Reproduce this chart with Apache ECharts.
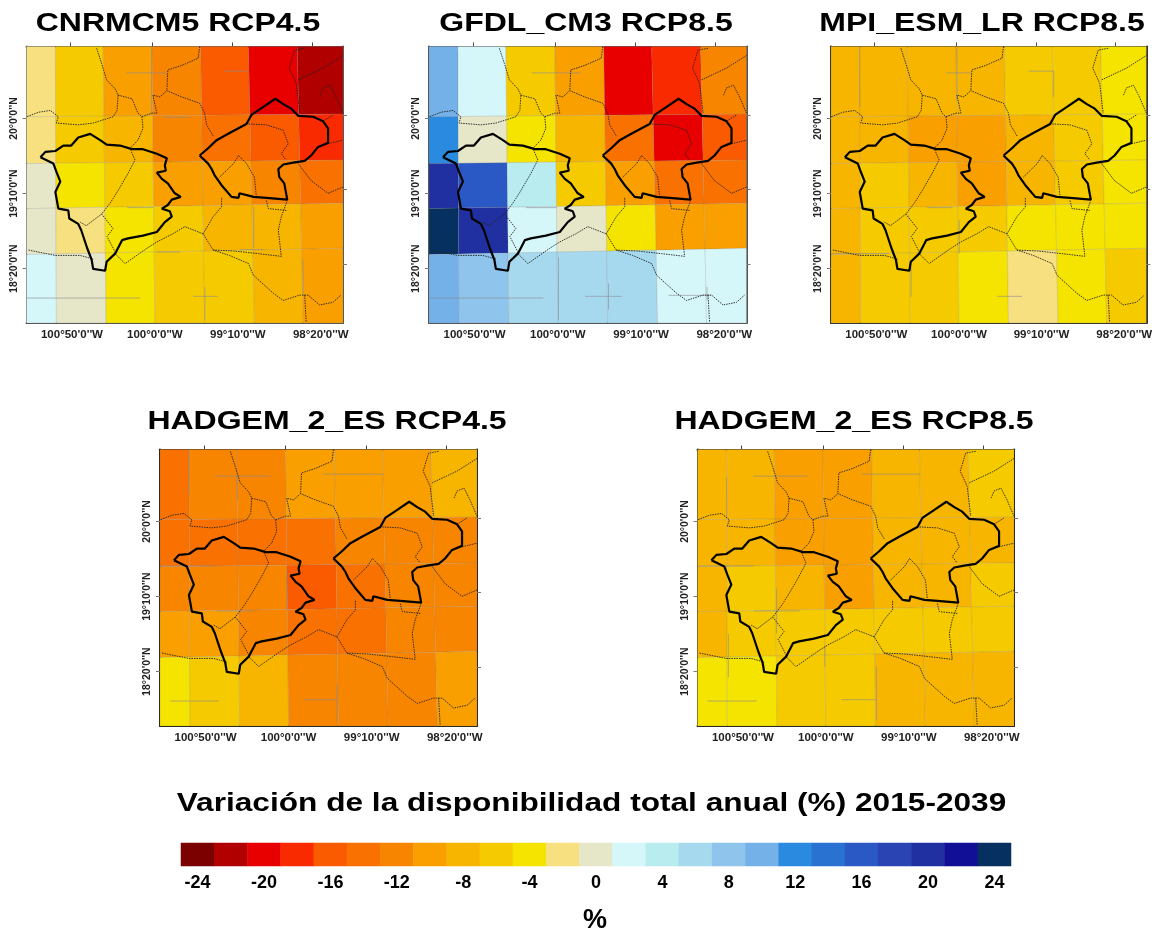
<!DOCTYPE html>
<html><head><meta charset="utf-8">
<style>html,body{margin:0;padding:0;background:#fff}#c{width:1155px;height:930px;filter:blur(0.5px)}</style>
<script src="https://cdn.jsdelivr.net/npm/echarts@6/dist/echarts.min.js"></script>
</head><body><div id="c"></div>
<script>
// colour scale
const binValues = [-24,-22,-20,-18,-16,-14,-12,-10,-8,-6,-4,-2,0,2,4,6,8,10,12,14,16,18,20,22,24];
const binColors = ['#7b0000','#b00000','#e80000','#fa2a00','#fa5a00','#f97100','#f88500','#f99f00','#f7b500','#f5cb00','#f5e300','#f7e07f','#e6e6c8','#d6f7fa','#b8ecee','#a6d9ee','#8fc4ec','#74b1e9','#2a8ae0','#2a72d2','#2a58c4','#2a44b4','#2030a0','#100f96','#05305f'];

// panels
const panelTitles = ['CNRMCM5 RCP4.5','GFDL_CM3 RCP8.5','MPI_ESM_LR RCP8.5','HADGEM_2_ES RCP4.5','HADGEM_2_ES RCP8.5'];
const cnrm = [[-2,-6,-10,-12,-16,-20,-22],[-2,-6,-8,-12,-14,-16,-18],[0,-4,-6,-10,-10,-12,-14],[0,-2,-4,-6,-8,-8,-10],[2,0,-4,-6,-6,-8,-10]];
const gfdl = [[10,2,-6,-10,-20,-18,-12],[12,0,-4,-8,-14,-20,-16],[20,16,4,-6,-10,-14,-14],[24,20,2,0,-4,-10,-10],[10,8,6,6,6,2,2]];
const mpi  = [[-8,-8,-8,-8,-6,-6,-4],[-8,-8,-10,-10,-8,-6,-4],[-8,-6,-8,-10,-8,-6,-4],[-8,-6,-6,-6,-4,-4,-4],[-8,-6,-6,-4,-2,-4,-6]];
const had45= [[-14,-12,-12,-10,-10,-10,-8],[-14,-14,-14,-14,-12,-12,-12],[-12,-12,-12,-16,-14,-12,-12],[-10,-10,-12,-14,-14,-12,-12],[-4,-6,-8,-12,-12,-12,-10]];
const had85= [[-8,-8,-10,-10,-8,-8,-6],[-8,-8,-10,-10,-8,-8,-8],[-8,-6,-8,-10,-8,-8,-6],[-8,-6,-6,-6,-6,-6,-6],[-4,-4,-6,-6,-8,-8,-8]];
const panelValues = [cnrm,gfdl,mpi,had45,had85];

// cell grid (degrees), slightly tilted
const lonEdgesTop    = [-101.29,-101.00,-100.52,-100.03,-99.54,-99.06,-98.57,-98.11];
const lonEdgesBottom = [-101.29,-100.99,-100.49,-100.00,-99.50,-99.00,-98.51,-98.11];
const latEdgesLeft   = [20.80,20.02,19.50,19.00,18.49,17.73];
const latEdgesRight  = [20.80,20.05,19.54,19.06,18.56,17.73];

// axes ticks
const lonTicks = [-100.8333,-100,-99.1667,-98.3333];
const lonLabels = ["100°50'0''W","100°0'0''W","99°10'0''W","98°20'0''W"];
const latTicks = [20,19.1667,18.3333];
const latLabels = ["20°0'0''N","19°10'0''N","18°20'0''N"];
const topTicks = [-100.85,-100.03,-99.22,-98.42];
const rightTicks = [20.04,19.22,18.38];

// basin outlines (lon, lat)
const basinWest = [[-101.15,19.57],[-101.10,19.63],[-101.00,19.64],[-100.92,19.70],[-100.84,19.70],[-100.77,19.79],[-100.65,19.83],[-100.55,19.76],[-100.485,19.71],[-100.35,19.70],[-100.23,19.66],[-100.12,19.66],[-99.98,19.61],[-99.88,19.56],[-99.90,19.48],[-99.89,19.42],[-99.98,19.40],[-99.93,19.33],[-99.87,19.28],[-99.80,19.17],[-99.74,19.13],[-99.83,19.10],[-99.87,19.04],[-99.93,19.00],[-99.85,18.97],[-99.83,18.91],[-99.90,18.85],[-99.98,18.74],[-100.12,18.70],[-100.27,18.67],[-100.33,18.65],[-100.40,18.50],[-100.485,18.41],[-100.50,18.31],[-100.62,18.33],[-100.635,18.43],[-100.68,18.56],[-100.74,18.76],[-100.77,18.83],[-100.86,18.89],[-100.87,18.98],[-100.97,19.00],[-101.00,19.185],[-100.95,19.30],[-100.99,19.41],[-101.02,19.50],[-101.15,19.57]];
const basinEast = [[-99.55,19.59],[-99.465,19.67],[-99.38,19.76],[-99.25,19.84],[-99.08,19.94],[-99.03,20.04],[-98.91,20.13],[-98.79,20.22],[-98.71,20.16],[-98.63,20.11],[-98.56,20.03],[-98.41,20.02],[-98.31,19.97],[-98.26,19.89],[-98.26,19.73],[-98.36,19.685],[-98.43,19.59],[-98.495,19.53],[-98.61,19.51],[-98.71,19.49],[-98.76,19.44],[-98.75,19.35],[-98.70,19.28],[-98.67,19.10],[-98.88,19.12],[-99.01,19.13],[-99.15,19.17],[-99.16,19.12],[-99.23,19.13],[-99.33,19.26],[-99.40,19.37],[-99.43,19.44],[-99.465,19.50],[-99.55,19.59]];

// thin boundaries (lon, lat)
const boundaries = [
 [[-100.585,20.78],[-100.535,20.61],[-100.485,20.43],[-100.40,20.33],[-100.37,20.26],[-100.38,20.09],[-100.42,20.02],[-100.62,19.95],[-100.77,19.93],[-100.99,19.95],[-100.97,20.02],[-101.05,20.09],[-101.17,20.07],[-101.287,20.02]],
 [[-100.37,20.26],[-100.23,20.22],[-100.17,20.06],[-100.13,20.02],[-100.12,19.89],[-100.17,19.76],[-100.25,19.67],[-100.20,19.54],[-100.27,19.39],[-100.37,19.20],[-100.45,19.06],[-100.535,18.94],[-100.69,18.81],[-100.75,18.85]],
 [[-100.535,18.94],[-100.42,18.78],[-100.48,18.69],[-100.40,18.52]],
 [[-100.13,20.02],[-100.03,20.06],[-99.98,20.06],[-100.02,20.26],[-99.95,20.24],[-99.88,20.31],[-99.73,20.24],[-99.55,20.17],[-99.50,20.06],[-99.48,19.93],[-99.41,19.80]],
 [[-99.55,20.80],[-99.565,20.67],[-99.73,20.59],[-99.87,20.54],[-99.88,20.31]],
 [[-101.27,18.54],[-101.00,18.48],[-100.75,18.48],[-100.62,18.44]],
 [[-100.40,18.50],[-100.30,18.39],[-100.08,18.56],[-99.98,18.63],[-99.82,18.72],[-99.70,18.80],[-99.515,18.72],[-99.415,18.54],[-99.25,18.48],[-99.06,18.39],[-99.01,18.26],[-98.81,18.06],[-98.71,17.98],[-98.545,18.04],[-98.46,18.04],[-98.345,17.93],[-98.21,17.96],[-98.13,18.04]],
 [[-98.495,18.04],[-98.48,17.74]],
 [[-99.515,18.72],[-99.415,18.91],[-99.33,19.02],[-99.33,19.13]],
 [[-99.415,18.54],[-99.21,18.53],[-98.96,18.50],[-98.73,18.47],[-98.76,18.76],[-98.73,18.91],[-98.67,19.09]],
 [[-98.88,19.09],[-98.86,19.00],[-98.68,18.98]],
 [[-99.06,19.94],[-98.88,19.93],[-98.71,19.87],[-98.66,19.72],[-98.73,19.61],[-98.68,19.54]],
 [[-99.35,19.35],[-99.21,19.50],[-99.16,19.59],[-99.08,19.50],[-99.00,19.35],[-98.98,19.13]],
 [[-98.56,19.50],[-98.43,19.31],[-98.26,19.17],[-98.11,19.24]],
 [[-98.26,19.72],[-98.11,19.76]],
 [[-98.34,20.26],[-98.31,20.34],[-98.24,20.37],[-98.18,20.24],[-98.11,20.06]],
 [[-98.31,19.97],[-98.21,20.04]],
 [[-98.495,20.78],[-98.595,20.76],[-98.65,20.56],[-98.58,20.39],[-98.545,20.06]],
 [[-98.56,20.43],[-98.31,20.56],[-98.11,20.70]]
];

// gray graticule fragments seen in each panel (lon, lat pairs)
const gratCnrm = [[[-100.284,20.507],[-99.883,20.507]],[[-99.916,20.015],[-99.649,20.015]],[[-100.278,19.011],[-100.017,19.011]],[[-99.983,18.519],[-99.749,18.519]],[[-101.288,18.007],[-100.15,18.007]],[[-99.615,18.026],[-99.365,18.026]],[[-99.147,18.544],[-98.913,18.544]],[[-99.314,20.526],[-99.064,20.526]],[[-100.033,20.8],[-100.033,20.04]],[[-99.498,18.13],[-99.498,17.76]],[[-98.512,18.426],[-98.512,18.056]],[[-99.007,19.02],[-99.007,18.57]]];
const gratGfdl = [[[-100.261,20.507],[-99.776,20.507]],[[-100.318,19.011],[-100.01,19.011]],[[-99.726,18.026],[-99.358,18.026]],[[-98.89,18.037],[-98.472,18.037]],[[-101.281,18.007],[-100.144,18.007]],[[-99.492,18.17],[-99.492,17.88]],[[-98.505,18.13],[-98.505,17.98]],[[-99.993,18.46],[-99.993,17.76]]];
const gratMpi = [[[-99.294,20.526],[-99.044,20.526]],[[-100.13,20.507],[-99.88,20.507]],[[-99.612,18.026],[-99.361,18.026]],[[-100.32,19.011],[-100.064,19.011]],[[-101.284,18.5],[-100.699,18.5]],[[-99.044,20.526],[-99.044,20.24]],[[-100.482,18.352],[-100.482,18.02]],[[-99.997,18.87],[-99.997,18.5]],[[-100.02,20.8],[-100.02,20.2]],[[-101.0,20.8],[-101.0,20.13]]];
const gratHad45 = [[[-100.736,20.504],[-100.184,20.504]],[[-99.649,20.526],[-99.047,20.526]],[[-101.187,18.007],[-100.702,18.007]],[[-99.85,18.022],[-99.515,18.022]],[[-101.288,19.507],[-100.736,19.507]],[[-100.719,19.007],[-100.351,19.007]],[[-101.003,20.8],[-101.003,20.31]],[[-100.512,20.515],[-100.512,20.237]],[[-99.515,18.19],[-99.515,17.78]],[[-100.017,19.46],[-100.017,19.02]]];
const gratHad85 = [[[-100.729,20.504],[-100.187,20.504]],[[-99.642,20.526],[-99.057,20.526]],[[-101.19,18.007],[-100.696,18.007]],[[-99.843,18.022],[-99.492,18.022]],[[-100.722,19.007],[-100.261,19.007]],[[-101.281,19.507],[-100.729,19.507]],[[-100.495,19.256],[-100.495,18.756]],[[-100.997,20.496],[-100.997,20.052]],[[-100.01,18.625],[-100.01,18.385]],[[-99.492,18.385],[-99.492,17.793]],[[-100.98,18.756],[-100.98,18.274]]];
const panelGrat = [gratCnrm,gratGfdl,gratMpi,gratHad45,gratHad85];

const lonMin=-101.29, lonMax=-98.11, latMin=17.73, latMax=20.80;
const panelRects = [[26.5,46.5,316.5,276.5],[429,46.5,317.5,276.5],[831,46.5,316.5,276.5],[160,449.5,317,276.5],[697.5,449.5,316.5,276.5]];
const titlePos = [[178,24],[586,24],[982,24],[327,422],[854,422]];
const borderColors = ['#555','#555','#333','#222','#222'];

function colorOf(v){ return binColors[binValues.indexOf(v)]; }
function corner(i,j){
  const t=(latEdgesLeft[0]-latEdgesLeft[j])/(latEdgesLeft[0]-latEdgesLeft[5]);
  const s=(lonEdgesTop[i]-lonMin)/(lonMax-lonMin);
  return [lonEdgesTop[i]+(lonEdgesBottom[i]-lonEdgesTop[i])*t, latEdgesLeft[j]+(latEdgesRight[j]-latEdgesLeft[j])*s];
}
const labelFont={fontFamily:'Liberation Sans',fontWeight:'bold',color:'#222'};
const grids=[],xAxes=[],yAxes=[],series=[],graphics=[];
panelTitles.forEach((title,p)=>{
  const r=panelRects[p], bc=borderColors[p];
  grids.push({left:r[0],top:r[1],width:r[2],height:r[3]});
  const line={show:true,onZero:false,lineStyle:{color:bc,width:2}};
  xAxes.push({type:'value',gridIndex:p,min:lonMin,max:lonMax,position:'bottom',axisLine:line,splitLine:{show:false},
    axisTick:{show:false},
    axisLabel:{customValues:lonTicks,margin:6,fontSize:11.5,...labelFont,formatter:v=>lonLabels[lonTicks.indexOf(v)],hideOverlap:false,showMinLabel:true,showMaxLabel:true}});
  xAxes.push({type:'value',gridIndex:p,min:lonMin,max:lonMax,position:'top',axisLine:line,splitLine:{show:false},
    axisTick:{show:true,length:4,inside:false,customValues:topTicks,lineStyle:{color:'#444',width:1}},axisLabel:{show:false}});
  yAxes.push({type:'value',gridIndex:p,min:latMin,max:latMax,position:'left',axisLine:line,splitLine:{show:false},
    axisTick:{show:true,length:4,customValues:latTicks,lineStyle:{color:'#777',width:1}},
    axisLabel:{customValues:latTicks,rotate:90,margin:7,fontSize:10.5,...labelFont,formatter:v=>latLabels[latTicks.indexOf(v)]}});
  yAxes.push({type:'value',gridIndex:p,min:latMin,max:latMax,position:'right',axisLine:line,splitLine:{show:false},
    axisTick:{show:true,length:4,customValues:rightTicks,lineStyle:{color:'#777',width:1}},axisLabel:{show:false}});
  const ax={xAxisIndex:2*p,yAxisIndex:2*p};
  const cells=[];
  panelValues[p].forEach((row,j)=>row.forEach((v,i)=>cells.push([i,j,v])));
  series.push({type:'custom',...ax,silent:true,animation:false,data:cells,z:1,
    renderItem:(params,api)=>{
      const i=api.value(0),j=api.value(1);
      const pts=[corner(i,j),corner(i+1,j),corner(i+1,j+1),corner(i,j+1)].map(c=>api.coord(c));
      const fill=colorOf(api.value(2));
      return {type:'polygon',shape:{points:pts},style:{fill,stroke:'rgba(120,120,120,0.18)',lineWidth:1}};
    }});
  panelGrat[p].forEach(g=>series.push({type:'line',...ax,data:g,symbol:'none',silent:true,animation:false,clip:true,z:2,
    lineStyle:{color:'#8a8a92',width:1,opacity:0.6}}));
  boundaries.forEach(b=>series.push({type:'line',...ax,data:b,symbol:'none',silent:true,animation:false,clip:true,z:3,
    lineStyle:{color:'#222',width:0.9,type:[1.5,1]}}));
  [basinWest,basinEast].forEach(b=>series.push({type:'line',...ax,data:b,symbol:'none',silent:true,animation:false,clip:true,z:4,
    lineStyle:{color:'#000',width:2.2}}));
  graphics.push({type:'text',x:titlePos[p][0],y:titlePos[p][1],scaleX:1.28,silent:true,
    style:{text:title,font:'bold 25px "Liberation Sans"',fill:'#000',textAlign:'center',textVerticalAlign:'middle'}});
});
// colour bar
grids.push({left:181,top:843,width:830,height:23});
xAxes.push({type:'category',gridIndex:5,data:binValues.map(String),axisLine:{show:false},axisTick:{show:false},
  axisLabel:{interval:1,margin:8,fontSize:18,fontFamily:'Liberation Sans',fontWeight:'bold',color:'#000'}});
yAxes.push({type:'category',gridIndex:5,data:['%'],show:false});
const barIndex=series.length;
series.push({type:'heatmap',xAxisIndex:10,yAxisIndex:10,silent:true,animation:false,
  data:binValues.map((v,i)=>[i,0,v])});
graphics.push({type:'text',x:591.5,y:804,scaleX:1.265,silent:true,
  style:{text:'Variación de la disponibilidad total anual (%) 2015-2039',font:'bold 25px "Liberation Sans"',fill:'#000',textAlign:'center',textVerticalAlign:'middle'}});
graphics.push({type:'text',x:595,y:921,silent:true,
  style:{text:'%',font:'bold 27px "Liberation Sans"',fill:'#000',textAlign:'center',textVerticalAlign:'middle'}});

const chart=echarts.init(document.getElementById('c'),null,{renderer:'canvas'});
chart.setOption({animation:false,backgroundColor:'#fff',grid:grids,xAxis:xAxes,yAxis:yAxes,series,graphic:graphics,
  visualMap:{show:false,type:'piecewise',seriesIndex:barIndex,dimension:2,
    pieces:binValues.map((v,i)=>({value:v,color:binColors[i]}))}});
</script></body></html>
